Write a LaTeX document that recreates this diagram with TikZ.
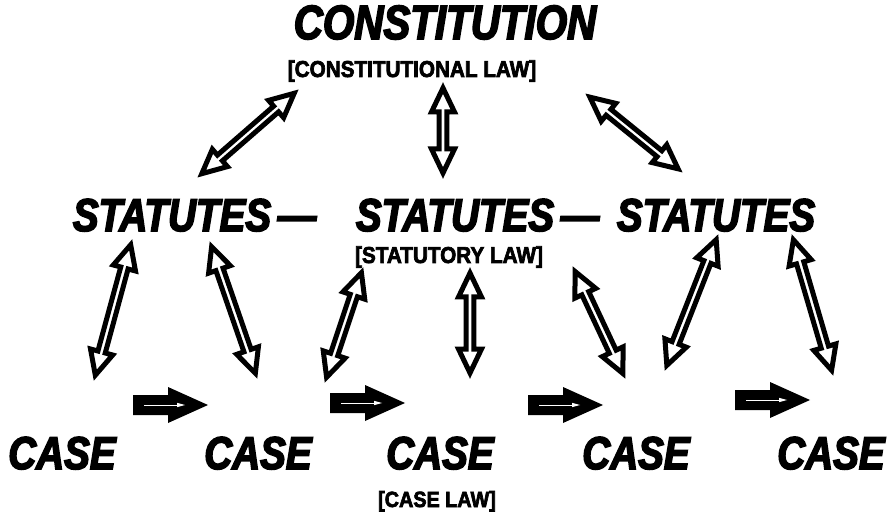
\documentclass[tikz,border=0pt]{standalone}
\usepackage{fontspec}
\usetikzlibrary{calc}
\newfontfamily\bigfont{Liberation Sans}[FakeStretch=0.84, FakeBold=3.5]
\newfontfamily\labfont{Liberation Sans}[FakeStretch=0.9, FakeBold=3]
\tikzset{
  big/.style={font=\bigfont\bfseries\itshape\fontsize{46}{46}\selectfont, inner sep=0pt, anchor=base},
  lab/.style={font=\labfont\bfseries\fontsize{23}{23}\selectfont, inner sep=0pt, anchor=base},
  hollow/.style={draw=black, fill=white, line width=5pt, line join=miter, miter limit=10},
  solidarrow/.style={fill=black},
}
\newcommand\hollowarr[2]{%
  \path let \p1=($(#2)-(#1)$) in \pgfextra{%
    \pgfmathparse{atan2(\y1,\x1)}\xdef\arrang{\pgfmathresult}%
    \pgfmathparse{veclen(\x1,\y1)-5}\xdef\arrlen{\pgfmathresult}};
  \draw[hollow, shift={(#1)}, rotate=\arrang, xshift=5]
    (0,0) -- (24,11.5) -- (24,3.8) -- (\arrlen-29,3.8) -- (\arrlen-29,11.5)
    -- (\arrlen-5,0) -- (\arrlen-29,-11.5) -- (\arrlen-29,-3.8)
    -- (24,-3.8) -- (24,-11.5) -- cycle;
}
\newcommand\solidarr[1]{%
  \fill[solidarrow, shift={(#1)}] (0,-10) -- (35,-10) -- (35,-18) -- (75,0)
    -- (35,18) -- (35,10) -- (0,10) -- cycle;
  \draw[white, line width=0.8pt, shift={(#1)}] (11,0) -- (47,0);
  \fill[white, shift={(#1)}] (52,0) -- (44,-2.2) -- (44,2.2) -- cycle;
}
\begin{document}
\begin{tikzpicture}[x=1pt, y=-1pt]
\useasboundingbox (0,0) rectangle (894,521);
% texts
\node[big, font=\bigfont\bfseries\itshape\fontsize{48}{48}\selectfont] (const) at (445,39) {CONSTITUTION};
\node[lab] (constlaw) at (412,77) {[CONSTITUTIONAL LAW]};
\node[big] (stat1) at (172,231) {STATUTES};
\node[big] (dash1) at (297,231) {—};
\node[big] (stat2) at (455,231) {STATUTES};
\node[big] (dash2) at (580,231) {—};
\node[big] (stat3) at (716,231) {STATUTES};
\node[lab] (statlaw) at (449,263) {[STATUTORY LAW]};
\node[big] (case1) at (62,469) {CASE};
\node[big] (case2) at (258,469) {CASE};
\node[big] (case3) at (440,469) {CASE};
\node[big] (case4) at (636,469) {CASE};
\node[big] (case5) at (831,469) {CASE};
\node[lab, font=\labfont\bfseries\fontsize{22}{22}\selectfont] (caselaw) at (437,507) {[CASE LAW]};
% arrow end points
\coordinate (a1s) at (298,90);  \coordinate (a1e) at (198,177);
\coordinate (a2s) at (443,83);  \coordinate (a2e) at (443,178);
\coordinate (a3s) at (586,94);  \coordinate (a3e) at (682,172);
\coordinate (a4s) at (132,240); \coordinate (a4e) at (94,380);
\coordinate (a5s) at (210,242); \coordinate (a5e) at (257,378);
\coordinate (a6s) at (363,268); \coordinate (a6e) at (325,382);
\coordinate (a7s) at (470,268); \coordinate (a7e) at (470,378);
\coordinate (a8s) at (573,267); \coordinate (a8e) at (625,378);
\coordinate (a9s) at (718,235); \coordinate (a9e) at (665,370);
\coordinate (a10s) at (792,235); \coordinate (a10e) at (833,375);
\hollowarr{a1s}{a1e}
\hollowarr{a2s}{a2e}
\hollowarr{a3s}{a3e}
\hollowarr{a4s}{a4e}
\hollowarr{a5s}{a5e}
\hollowarr{a6s}{a6e}
\hollowarr{a7s}{a7e}
\hollowarr{a8s}{a8e}
\hollowarr{a9s}{a9e}
\hollowarr{a10s}{a10e}
% solid arrows
\coordinate (h1) at (133,405);
\coordinate (h2) at (330,403);
\coordinate (h3) at (528,405);
\coordinate (h4) at (735,400);
\solidarr{h1}
\solidarr{h2}
\solidarr{h3}
\solidarr{h4}
\end{tikzpicture}
\end{document}
